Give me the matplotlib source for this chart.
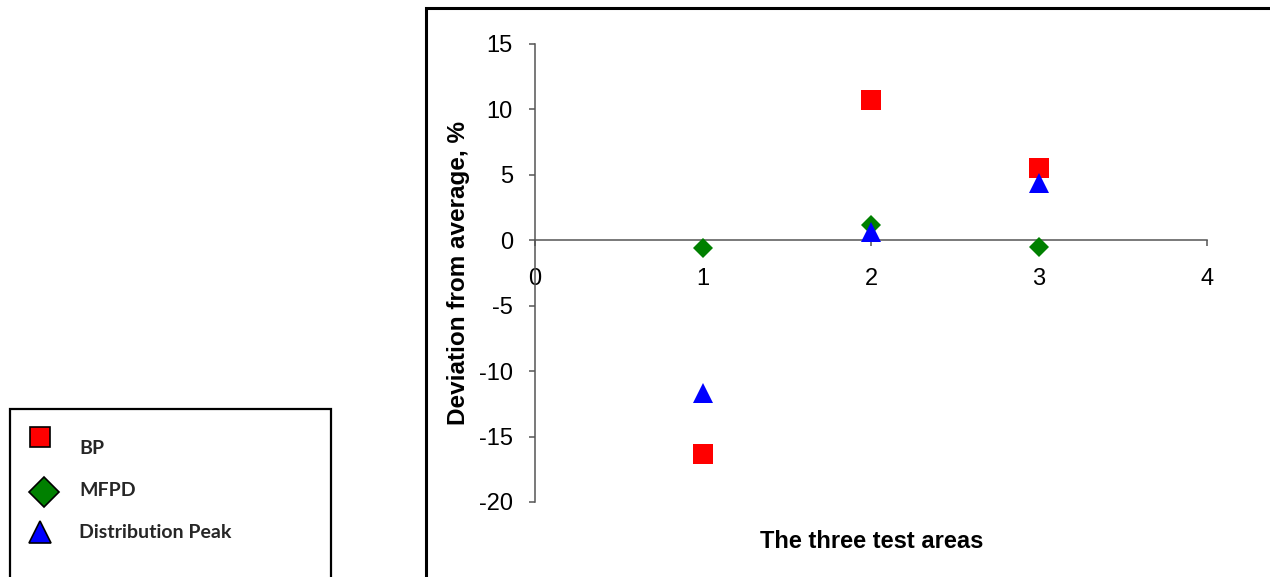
import matplotlib
matplotlib.use('Agg')
import matplotlib.pyplot as plt
from matplotlib.patches import Rectangle

# data
areas = [1, 2, 3]
bp = [-16.3, 10.7, 5.5]
mfpd = [-0.6, 1.2, -0.5]
peak = [-11.7, 0.6, 4.4]

series_names = ['BP', 'MFPD', 'Distribution Peak']
x_ticks = [0, 1, 2, 3, 4]
y_ticks = [-20, -15, -10, -5, 0, 5, 10, 15]

plt.rcParams['font.family'] = ['Liberation Sans', 'DejaVu Sans']
plt.rcParams['axes.unicode_minus'] = False

W, H = 1270, 577
fig = plt.figure(figsize=(12.7, 5.77), dpi=100)

# outer chart frame (cut by the image edge on right and bottom)
fig.add_artist(Rectangle((426 / W, -0.2), 1.0, 1 - 8 / H + 0.2,
                         transform=fig.transFigure, fill=False,
                         edgecolor='black', linewidth=2.2))

ax = fig.add_axes([535 / W, 1 - 502 / H, 672 / W, (502 - 44) / H])
axis_col = '#555555'

ax.plot(areas, bp, linestyle='none', marker='s', markersize=14,
        color='#ff0000', markeredgewidth=0, zorder=3)
ax.plot(areas, mfpd, linestyle='none', marker='D', markersize=10.5,
        color='#008000', markeredgewidth=0, zorder=3)
ax.plot(areas, peak, linestyle='none', marker='^', markersize=15,
        color='#0000ff', markeredgewidth=0, zorder=4)

ax.set_xlim(0, 4)
ax.set_ylim(-20, 15)
ax.set_xticks(x_ticks)
ax.set_yticks(y_ticks)

for s in ['top', 'right']:
    ax.spines[s].set_visible(False)
ax.spines['bottom'].set_position(('data', 0))
for s in ['left', 'bottom']:
    ax.spines[s].set_color(axis_col)
    ax.spines[s].set_linewidth(1.1)

ax.tick_params(axis='both', direction='out', length=4, width=1.1,
               color=axis_col, labelsize=17, labelcolor='black')
ax.tick_params(axis='x', pad=16)
ax.tick_params(axis='y', pad=12)

ax.set_xlabel('The three test areas', fontsize=17, fontweight='bold', va='center')
ax.xaxis.set_label_coords((872 - 535) / 672, (502 - 542) / 458)
ax.set_ylabel('Deviation from average, %', fontsize=17.5, fontweight='bold', va='center')
ax.yaxis.set_label_coords((458 - 535) / 672, (502 - 273) / 458)

# legend box drawn by hand, like the original
fig.add_artist(Rectangle((10 / W, -0.2), 321 / W, 1 - 409 / H + 0.2,
                         transform=fig.transFigure, fill=False,
                         edgecolor='black', linewidth=1.6))
leg = fig.add_axes([0, 0, 1, 1], facecolor='none')
leg.set_xlim(0, W)
leg.set_ylim(H, 0)
leg.axis('off')
leg_marks = [('s', '#ff0000', 15, 40, 437, 449),
             ('D', '#008000', 15, 44, 492, 491),
             ('^', '#0000ff', 16, 40, 532, 533)]
for name, (mk, col, ms, mx, my, ty) in zip(series_names, leg_marks):
    leg.plot([mx], [my], linestyle='none', marker=mk, markersize=ms,
             color=col, markeredgecolor='black', markeredgewidth=1.2)
    leg.text(79, ty, name, fontsize=14, fontweight='bold', family=['Lato', 'DejaVu Sans'],
             color='#262626', va='center', ha='left')

fig.savefig('out.png', dpi=100)
